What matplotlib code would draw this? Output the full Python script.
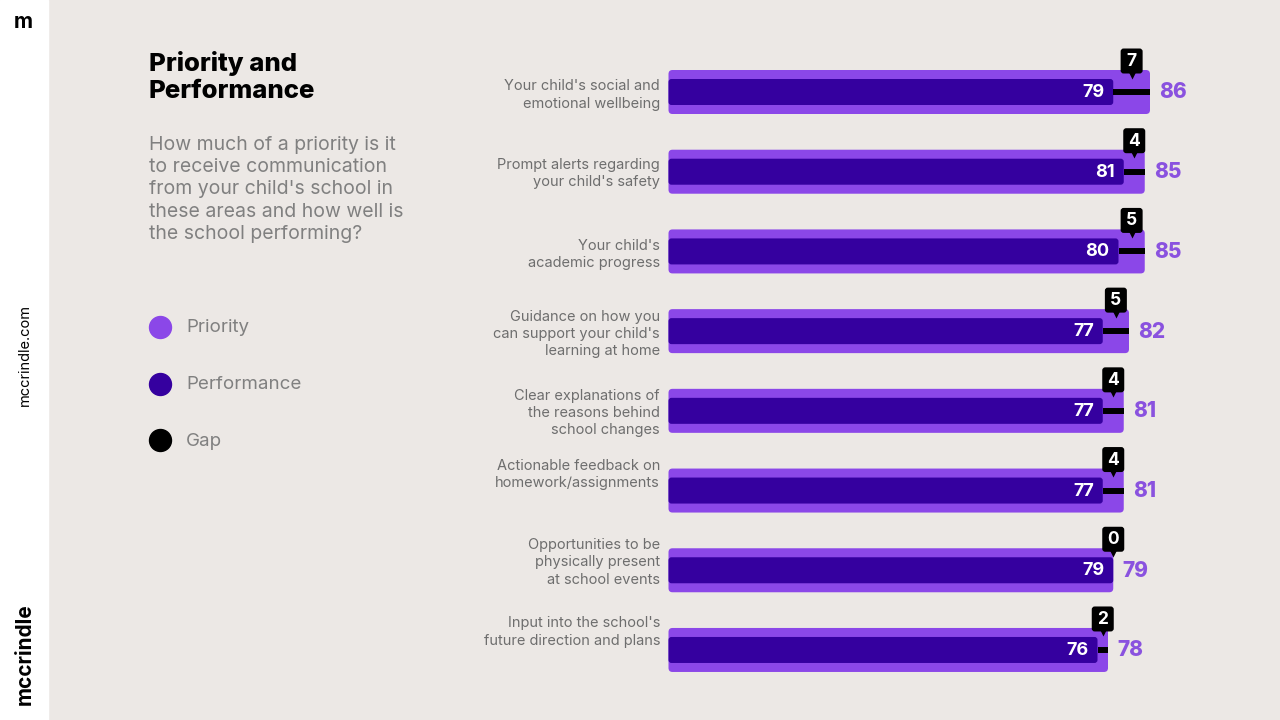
import numpy as np
import matplotlib.pyplot as plt
from matplotlib.patches import FancyBboxPatch, Rectangle

plt.rcParams['font.family'] = ['Inter', 'DejaVu Sans']

# data
categories = [
    "Your child's social and\nemotional wellbeing",
    "Prompt alerts regarding\nyour child's safety",
    "Your child's\nacademic progress",
    "Guidance on how you\ncan support your child's\nlearning at home",
    "Clear explanations of\nthe reasons behind\nschool changes",
    "Actionable feedback on\nhomework/assignments",
    "Opportunities to be\nphysically present\nat school events",
    "Input into the school's\nfuture direction and plans",
]
priority = [86, 85, 85, 82, 81, 81, 79, 78]
performance = [79, 81, 80, 77, 77, 77, 79, 76]
gap = [7, 4, 5, 5, 4, 4, 0, 2]
legend_labels = ['Priority', 'Performance', 'Gap']

title = "Priority and\nPerformance"
subtitle = ("How much of a priority is it\nto receive communication\n"
            "from your child's school in\nthese areas and how well is\n"
            "the school performing?")

# style
BG = '#ECE8E5'
C_PRIO = '#8B47E8'
C_PERF = '#35009F'
C_PRIO_TXT = '#8A52DF'
C_GRAY = '#6E6E6E'
C_SUB = '#808080'

W, H = 1280, 720
XPX = 5.25          # pixels per value unit
X0 = 698.5          # pixel of value 0
ROW0, ROWSTEP = 92, 79.71
ux = 1 / XPX        # value units per pixel
uy = 1 / ROWSTEP    # row units per pixel
label_dy = [3, 2, 3, 3, 2, -16, -8, -18]   # label nudge, px

fig = plt.figure(figsize=(W / 100, H / 100), dpi=100)
fig.patch.set_facecolor(BG)

# left panel in pixel coords
axl = fig.add_axes([0, 0, 1, 1])
axl.set_xlim(0, W)
axl.set_ylim(H, 0)
axl.axis('off')
axl.add_patch(Rectangle((0, 0), 48, H, color='white', zorder=0))
axl.text(23, 22, 'm', fontsize=15, fontweight='bold', ha='center', va='center')
axl.text(25, 355, 'mccrindle.com', fontsize=10.5, rotation=90, ha='center', va='center')
axl.text(25, 654, 'mccrindle', fontsize=15, fontweight='bold', rotation=90,
         ha='center', va='center')

axl.text(149, 51, title, fontsize=18.5, fontweight='heavy', ha='left', va='top',
         linespacing=1.25, color='black')
axl.text(149, 136, subtitle, fontsize=14, ha='left', va='top', linespacing=1.3,
         color=C_SUB)

leg_colors = [C_PRIO, C_PERF, 'black']
for k, (lab, col) in enumerate(zip(legend_labels, leg_colors)):
    y = 327 + 56.5 * k
    axl.scatter([160], [y], s=250, color=col, zorder=3)
    axl.text(186, y + 1, lab, fontsize=13.5, color=C_SUB, ha='left', va='center')

# main chart in value coords
ax = fig.add_axes([0, 0, 1, 1])
ax.patch.set_alpha(0)
ax.set_xlim(-X0 * ux, (W - X0) * ux)
ax.set_ylim((H - ROW0) * uy, -ROW0 * uy)
ax.axis('off')

bar_left = -30 * ux
h_prio = 44 * uy
h_perf = 26 * uy
aspect = XPX / ROWSTEP

for i, (cat, pr, pf, g) in enumerate(zip(categories, priority, performance, gap)):
    ax.add_patch(FancyBboxPatch((bar_left, i - h_prio / 2), pr - bar_left, h_prio,
                                boxstyle=f'round,pad=0,rounding_size={4 * ux}',
                                mutation_aspect=aspect, fc=C_PRIO, ec='none', zorder=2))
    ax.add_patch(FancyBboxPatch((bar_left, i - h_perf / 2), pf - bar_left, h_perf,
                                boxstyle=f'round,pad=0,rounding_size={3 * ux}',
                                mutation_aspect=aspect, fc=C_PERF, ec='none', zorder=3))
    ax.plot([pf, pr], [i, i], color='black', lw=4.3, solid_capstyle='butt', zorder=4)

    # gap callout
    mid = (pf + pr) / 2
    bw, bh = 22 * ux, 25 * uy
    by = i - 31 * uy
    ax.add_patch(FancyBboxPatch((mid - bw / 2, by - bh / 2), bw, bh,
                                boxstyle=f'round,pad=0,rounding_size={3 * ux}',
                                mutation_aspect=aspect, fc='black', ec='none', zorder=5))
    ax.plot([mid], [by + bh / 2 + 1 * uy], marker='v', ms=5.5, color='black',
            mec='none', zorder=5)
    ax.text(mid, by + 0.5 * uy, str(g), color='white', fontsize=12.5, fontweight='bold',
            ha='center', va='center', zorder=6)

    ax.text(pf - 9 * ux, i + 0.5 * uy, str(pf), color='white', fontsize=13,
            fontweight='bold', ha='right', va='center', zorder=6)
    ax.text(pr + 9 * ux, i + 0.5 * uy, str(pr), color=C_PRIO_TXT, fontsize=15,
            fontweight='heavy', ha='left', va='center', zorder=6)
    ax.text((660 - X0) * ux, i + label_dy[i] * uy, cat, color=C_GRAY, fontsize=10.5,
            ha='right', va='center', multialignment='right', linespacing=1.3, zorder=6)

fig.savefig('out.png', dpi=100, facecolor=BG)
